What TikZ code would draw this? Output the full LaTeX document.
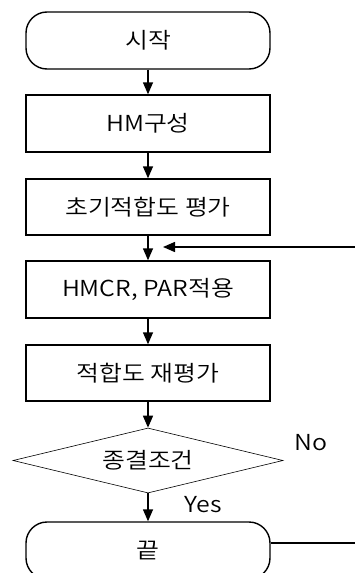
\documentclass[tikz,border=0pt]{standalone}
\usepackage{fontspec}
\setmainfont[FakeStretch=1.13]{Noto Sans CJK KR DemiLight}
\usetikzlibrary{shapes.geometric,arrows.meta,calc}
\begin{document}
\begin{tikzpicture}[x=1pt,y=-1pt,
  font=\fontsize{22pt}{25pt}\selectfont,
  box/.style={draw,line width=1.4pt,minimum width=244pt,minimum height=56pt,inner sep=0pt},
  term/.style={box,rounded corners=21pt,minimum height=57pt},
  dec/.style={draw,diamond,line width=0.6pt,minimum width=270pt,minimum height=65pt,inner sep=0pt,aspect=4.15},
  flow/.style={line width=1.4pt,-{Triangle[length=12pt,width=10pt]}},
  lab/.style={font=\fontsize{22pt}{25pt}\selectfont}]
\useasboundingbox (0,0) rectangle (355,573);
\clip (0,0) rectangle (355,573);
\node[term] (start) at (148,40.5) {시작};
\node[box,minimum height=57pt] (hm) at (148,123.5) {HM구성};
\node[box] (init) at (148,207) {초기적합도 평가};
\node[box,minimum height=57pt] (hmcr) at (148,289.5) {HMCR, PAR적용};
\node[box] (re) at (148,373) {적합도 재평가};
\node[dec] (cond) at (148,460.5) {종결조건};
\node[term] (end) at (148,550.5) {끝};
\node[lab] (no) at (311,443) {No};
\node[lab] (yes) at (203,505) {Yes};
\coordinate (fbin) at (355,247);
\coordinate (fbtip) at (163,247);
\coordinate (endout) at (355,543);
\draw[flow] (start) -- (hm);
\draw[flow] (hm) -- (init);
\draw[flow] (init) -- (hmcr);
\draw[flow] (hmcr) -- (re);
\draw[flow] (re) -- (cond);
\draw[flow] (cond) -- (end);
\draw[flow] (fbin) -- (fbtip);
\draw[line width=1.4pt] (end.east |- endout) -- (endout);
\end{tikzpicture}
\end{document}
